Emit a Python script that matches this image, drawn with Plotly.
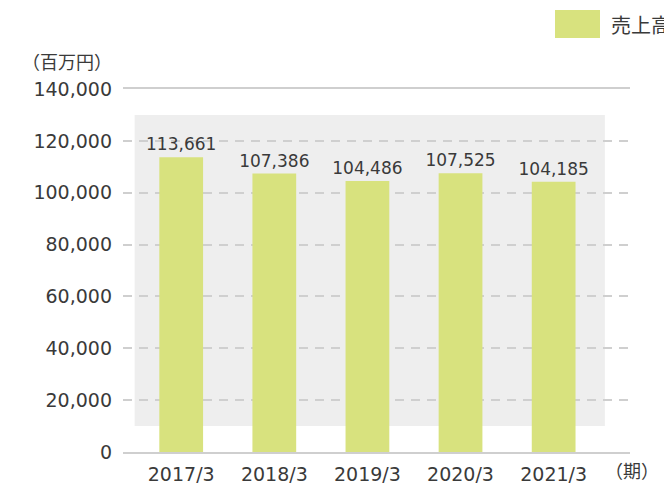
import plotly.graph_objects as go

categories = ["2017/3", "2018/3", "2019/3", "2020/3", "2021/3"]
sales = [113661, 107386, 104486, 107525, 104185]
series_name = "売上高"
y_ticks = [0, 20000, 40000, 60000, 80000, 100000, 120000, 140000]
y_unit = "（百万円）"
x_unit = "（期）"

BAR = "#d8e27e"
TXT = "#3a3a3a"
GRID = "#cfcfcf"
NUMFONT = "DejaVu Sans, Noto Sans CJK JP, sans-serif"
CJKFONT = "Noto Sans CJK JP, sans-serif"

# page has an 8px body margin; compensate
OFF = 8
W, H = 672 - OFF, 487 - OFF
L, R, T, B = 123 - OFF, 630 - OFF, 89 - OFF, 452 - OFF
PW, PH = R - L, B - T


def px(x):
    return (x - OFF - L) / PW


def py(y):
    return (B - (y - OFF)) / PH


fig = go.Figure()
fig.add_trace(go.Bar(
    x=list(range(len(categories))), y=sales, name=series_name,
    marker=dict(color=BAR, line=dict(width=0)), width=0.47,
    text=[f"{v:,}" for v in sales], textposition="outside", constraintext="none",
    textfont=dict(size=17, color=TXT, family=NUMFONT), cliponaxis=False,
    showlegend=False,
))

fig.add_shape(type="rect", xref="x", yref="y", x0=-0.5, x1=4.55, y0=10000, y1=130000,
              fillcolor="#eeeeee", line=dict(width=0), layer="below")

fig.add_shape(type="rect", xref="paper", yref="paper",
              x0=px(555), x1=px(600), y0=py(38), y1=py(10),
              fillcolor=BAR, line=dict(width=0))
fig.add_annotation(text=series_name, xref="paper", yref="paper", x=px(609), y=py(24),
                   xanchor="left", yanchor="middle", showarrow=False,
                   font=dict(size=20, color=TXT, family=CJKFONT))
fig.add_annotation(text=y_unit, xref="paper", yref="paper", x=px(114), y=py(61),
                   xanchor="right", yanchor="middle", showarrow=False,
                   font=dict(size=18, color=TXT, family=CJKFONT))
fig.add_annotation(text=x_unit, xref="paper", yref="paper", x=px(603), y=py(470),
                   xanchor="left", yanchor="middle", showarrow=False,
                   font=dict(size=18, color=TXT, family=CJKFONT))

fig.update_layout(
    width=W, height=H,
    margin=dict(l=L, r=W - R, t=T, b=H - B, autoexpand=False),
    paper_bgcolor="white", plot_bgcolor="white",
    font=dict(family=NUMFONT, color=TXT, size=19),
    xaxis=dict(tickmode="array", tickvals=list(range(len(categories))), ticktext=categories,
               range=[-0.625, 4.82], showgrid=False, zeroline=False,
               showline=True, mirror=True, linecolor=GRID, linewidth=2,
               ticks="", ticklabelstandoff=4,
               tickfont=dict(size=19, color=TXT, family=NUMFONT)),
    yaxis=dict(range=[0, 140000], tickvals=y_ticks, tickformat=",d",
               showgrid=True, gridcolor=GRID, gridwidth=1.5, griddash="9px,7px",
               zeroline=False, showline=False, ticks="", ticklabelstandoff=10,
               tickfont=dict(size=19, color=TXT, family=NUMFONT)),
)

fig.write_html("out.html")
